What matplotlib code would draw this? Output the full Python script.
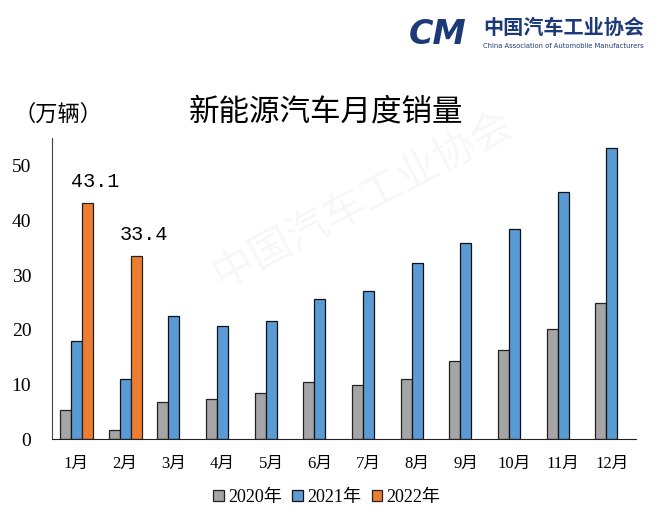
import numpy as np
import matplotlib
matplotlib.use("Agg")
import matplotlib.pyplot as plt

plt.rcParams['font.family'] = ['Liberation Serif', 'Noto Sans CJK SC']

months = ["1月", "2月", "3月", "4月", "5月", "6月",
          "7月", "8月", "9月", "10月", "11月", "12月"]
sales_2020 = [5.3, 1.8, 6.8, 7.4, 8.4, 10.5, 10.0, 11.1, 14.3, 16.3, 20.2, 24.9]
sales_2021 = [18.0, 11.0, 22.6, 20.7, 21.7, 25.6, 27.1, 32.2, 35.9, 38.4, 45.1, 53.2]
sales_2022 = [43.1, 33.4]

fig = plt.figure(figsize=(6.6, 5.25), dpi=100)
ax = fig.add_axes([0.079, 0.163, 0.885, 0.574])

x = np.arange(len(months))
w = 0.226

ax.bar(x - w, sales_2020, w, color="#a5a5a5", edgecolor="#222222", linewidth=0.9, label="2020年")
ax.bar(x, sales_2021, w, color="#5b9bd5", edgecolor="#111111", linewidth=0.9, label="2021年")
x22 = x[:len(sales_2022)] + w
ax.bar(x22, sales_2022, w, color="#ed7d31", edgecolor="#222222", linewidth=0.9, label="2022年")

for xi, v in zip(x22, sales_2022):
    ax.text(xi + 0.16, v + 2.2, f"{v}", ha="center", va="bottom", fontsize=14.5,
            family=['Liberation Mono', 'Noto Sans CJK SC'])

ax.set_xlim(-0.5, 11.5)
ax.set_ylim(0, 55)
ax.set_yticks([0, 10, 20, 30, 40, 50])
ax.set_xticks(x)
ax.set_xticklabels(months, fontsize=12)
ax.tick_params(axis="both", length=0)
ax.tick_params(axis="y", pad=15, labelsize=14)
ax.tick_params(axis="x", pad=12)
for s in ["top", "right"]:
    ax.spines[s].set_visible(False)
ax.spines["left"].set_color("#444444")
ax.spines["bottom"].set_color("#222222")

fig.text(0.494, 0.787, "新能源汽车月度销量", ha="center", va="center", fontsize=22,
         family=['Noto Sans CJK SC'])
fig.text(0.02, 0.782, "（万辆）", ha="left", va="center", fontsize=16,
         family=['Noto Sans CJK SC'])

ax.legend(loc="upper center", bbox_to_anchor=(0.47, -0.11), ncol=3, frameon=False,
          fontsize=13, handlelength=0.6, handleheight=0.6, handletextpad=0.2,
          columnspacing=0.6)

# logo
navy = "#1d3a78"
fig.text(0.62, 0.935, "CM", ha="left", va="center", fontsize=24, color=navy,
         fontweight="bold", style="italic", family=['DejaVu Sans'])
fig.text(0.732, 0.948, "中国汽车工业协会", ha="left", va="center", fontsize=14.5,
         color=navy, fontweight="bold", family=['Noto Sans CJK SC'])
fig.text(0.732, 0.912, "China Association of Automobile Manufacturers", ha="left",
         va="center", fontsize=4.9, color=navy, family=['DejaVu Sans'])

# faint watermark
fig.text(0.55, 0.62, "中国汽车工业协会", ha="center", va="center", fontsize=30,
         color="#000000", alpha=0.035, rotation=28, family=['Noto Sans CJK SC'])

fig.savefig("out.png", dpi=100)
